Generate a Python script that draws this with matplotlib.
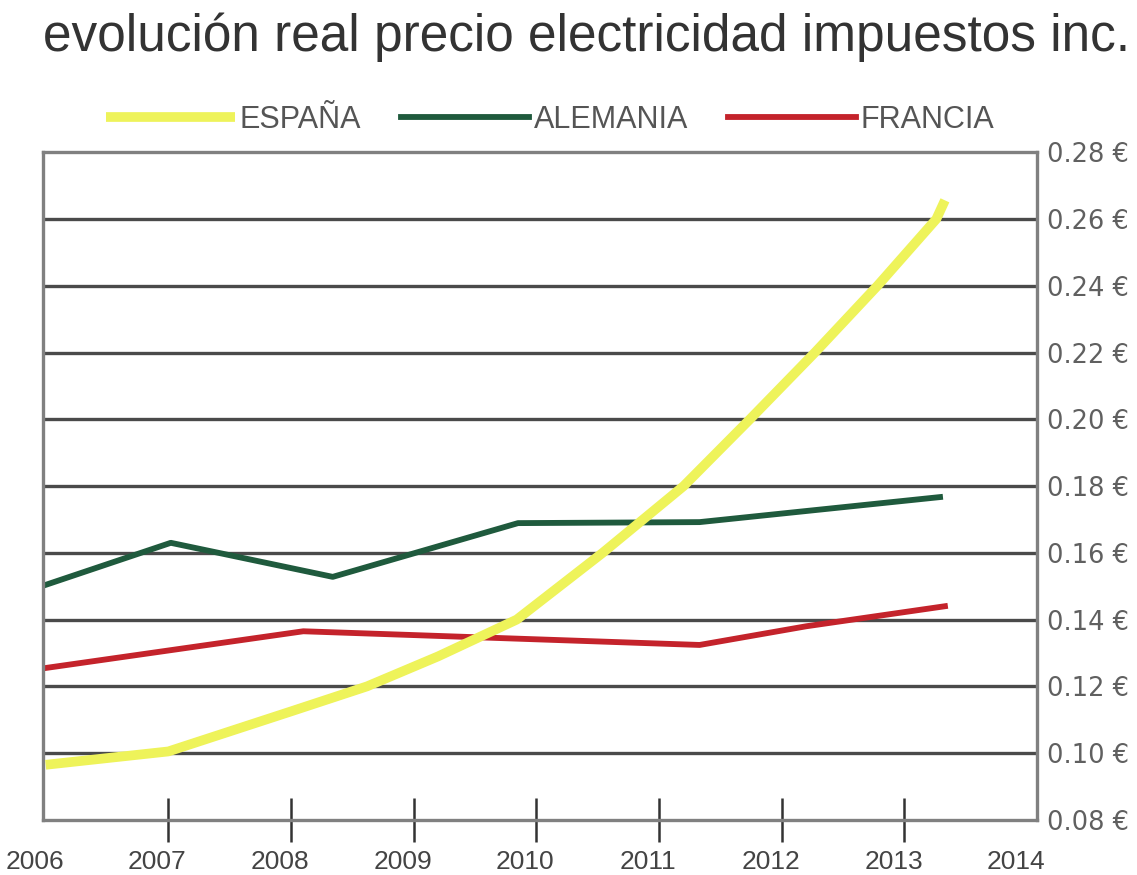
import matplotlib.pyplot as plt
from matplotlib.transforms import ScaledTranslation

# values (EUR/kWh, taxes included)
years_es = [2006.0, 2007.0, 2008.0, 2008.62, 2009.2, 2009.84, 2010.54, 2011.2, 2011.74, 2012.27, 2012.78, 2013.26, 2013.33]
price_es = [0.0965, 0.1005, 0.1125, 0.120, 0.129, 0.140, 0.160, 0.180, 0.200, 0.220, 0.240, 0.260, 0.2656]

years_de = [2006.0, 2007.02, 2008.34, 2009.85, 2011.33, 2013.29]
price_de = [0.1504, 0.163, 0.1528, 0.1689, 0.1692, 0.1767]

years_fr = [2006.0, 2008.1, 2011.33, 2012.2, 2013.33]
price_fr = [0.1255, 0.1365, 0.1324, 0.138, 0.144]

year_labels = list(range(2006, 2015))
price_ticks = [0.08, 0.10, 0.12, 0.14, 0.16, 0.18, 0.20, 0.22, 0.24, 0.26, 0.28]

plt.rcParams['font.family'] = ['Liberation Sans', 'DejaVu Sans']

fig = plt.figure(figsize=(11.37, 8.75), dpi=100)
ax = fig.add_axes([0.038, 0.063, 0.874, 0.763])

for y in price_ticks[1:-1]:
	ax.axhline(y, color='#4a4a4a', lw=2.4, zorder=1)

ax.plot(years_es, price_es, color='#eef35a', lw=7, solid_capstyle='butt', solid_joinstyle='round',
	label='ESPAÑA', zorder=3)
ax.plot(years_de, price_de, color='#1f5a3d', lw=4.2, label='ALEMANIA', zorder=2)
ax.plot(years_fr, price_fr, color='#c4232b', lw=4.2, label='FRANCIA', zorder=2)

ax.set_xlim(2005.98, 2014.08)
ax.set_ylim(0.08, 0.28)

for s in ax.spines.values():
	s.set_color('#808080')
	s.set_linewidth(2.4)

# tick marks only between the end years, labels for every year
ax.xaxis.remove_overlapping_locs = False
ax.set_xticks(year_labels)
ax.set_xticklabels([str(y) for y in year_labels], fontsize=19, color='#444444')
ax.set_xticks(year_labels[1:-1], minor=True)
ax.tick_params(axis='x', which='major', length=0, pad=22)
ax.tick_params(axis='x', which='minor', direction='inout', length=32, width=1.8, color='#333333')
offset = ScaledTranslation(-11 / 100, 0, fig.dpi_scale_trans)
for lab in ax.get_xticklabels():
	lab.set_transform(lab.get_transform() + offset)

ax.yaxis.tick_right()
ax.set_yticks(price_ticks)
ax.set_yticklabels([f"{p:.2f} €" for p in price_ticks], fontsize=18.5, color='#606060', family=['DejaVu Sans'])
ax.tick_params(axis='y', length=0, pad=7)

fig.text(0.516, 0.958, 'evolución real precio electricidad impuestos inc.', ha='center', va='center',
	fontsize=37, color='#333333')

fig.legend(loc='center', bbox_to_anchor=(0.484, 0.863), ncol=3, frameon=False, fontsize=22,
	handlelength=4.2, handletextpad=0.15, columnspacing=1.3, labelcolor='#555555')

fig.savefig('out.png', dpi=100)
